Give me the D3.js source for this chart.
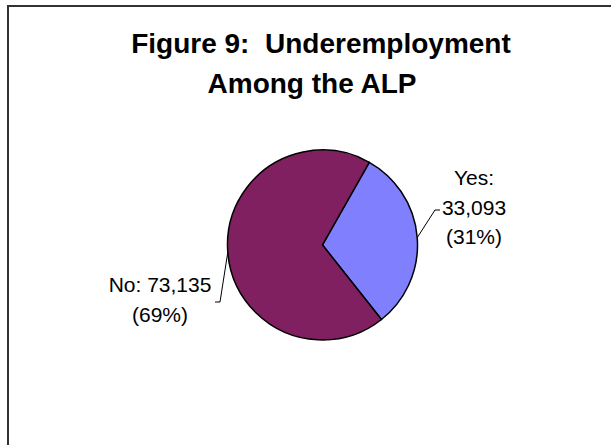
<!DOCTYPE html>
<html>
<head>
<meta charset="utf-8">
<script src="https://cdn.jsdelivr.net/npm/d3@7"></script>
<style>
  body { margin: 0; background: #fff; }
  text { font-family: 'Liberation Sans', Arial, sans-serif; fill: #000; white-space: pre; }
</style>
</head>
<body>
<script>
const width = 611
const height = 445

// data
const categories = ['Yes', 'No']
const counts = [33093, 73135]
const percents = ['31%', '69%']
const titleLines = ['Figure 9:  Underemployment', 'Among the ALP']
const colors = ['#8080ff', '#802060']

const cx = 322.5
const cy = 245
const radius = 95
const startAngle = 29.5 * Math.PI / 180

const data = categories.map((c, i) => ({ label: c, value: counts[i], pct: percents[i], color: colors[i] }))

const svg = d3.select('body')
  .append('svg')
  .attr('width', width)
  .attr('height', height)

// chart area border (right/bottom edges fall outside the picture)
svg.append('rect')
  .attr('x', 8)
  .attr('y', 6)
  .attr('width', 640)
  .attr('height', 480)
  .attr('fill', '#fff')
  .attr('stroke', '#333')
  .attr('stroke-width', 2)

svg.append('g')
  .attr('class', 'title')
  .selectAll('text')
  .data(titleLines)
  .enter()
  .append('text')
  .attr('x', (d, i) => i === 0 ? 321 : 312)
  .attr('y', (d, i) => 53 + i * 40)
  .attr('text-anchor', 'middle')
  .style('font-size', '28px')
  .style('font-weight', 'bold')
  .text(d => d)

const pie = d3.pie()
  .sort(null)
  .startAngle(startAngle)
  .endAngle(startAngle + 2 * Math.PI)
  .value(d => d.value)

const arc = d3.arc()
  .innerRadius(0)
  .outerRadius(radius)

const g = svg.append('g')
  .attr('transform', `translate(${cx}, ${cy})`)

const arcs = pie(data)

g.selectAll('path.slice')
  .data(arcs)
  .enter()
  .append('path')
  .attr('class', 'slice')
  .attr('d', arc)
  .attr('fill', d => d.data.color)
  .attr('stroke', '#000')
  .attr('stroke-width', 1.5)
  .attr('stroke-linejoin', 'miter')

function midAngle (d) {
  return d.startAngle + (d.endAngle - d.startAngle) / 2
}

function edgePoint (d) {
  const a = midAngle(d)
  return [radius * Math.sin(a), -radius * Math.cos(a)]
}

/* ------- labels ------- */
const fmt = d3.format(',')
const labelPos = {
  Yes: { x: 474 - cx, y: 185 - cy, lines: d => [d.data.label + ':', fmt(d.data.value), '(' + d.data.pct + ')'], elbow: [435 - cx, 210 - cy], end: [440 - cx, 210 - cy] },
  No: { x: 160 - cx, y: 292 - cy, lines: d => [d.data.label + ': ' + fmt(d.data.value), '(' + d.data.pct + ')'], elbow: [220 - cx, 302 - cy], end: [215 - cx, 302 - cy] }
}

const labels = g.selectAll('g.label')
  .data(arcs)
  .enter()
  .append('g')
  .attr('class', 'label')

labels.each(function (d) {
  const p = labelPos[d.data.label]
  d3.select(this).selectAll('text')
    .data(p.lines(d))
    .enter()
    .append('text')
    .attr('x', p.x)
    .attr('y', (t, i) => p.y + i * 29.5)
    .attr('text-anchor', 'middle')
    .style('font-size', '21px')
    .text(t => t)

  d3.select(this).append('polyline')
    .attr('points', [edgePoint(d), p.elbow, p.end].map(q => q.join(',')).join(' '))
    .attr('fill', 'none')
    .attr('stroke', '#000')
    .attr('stroke-width', 1)
})
</script>
</body>
</html>
